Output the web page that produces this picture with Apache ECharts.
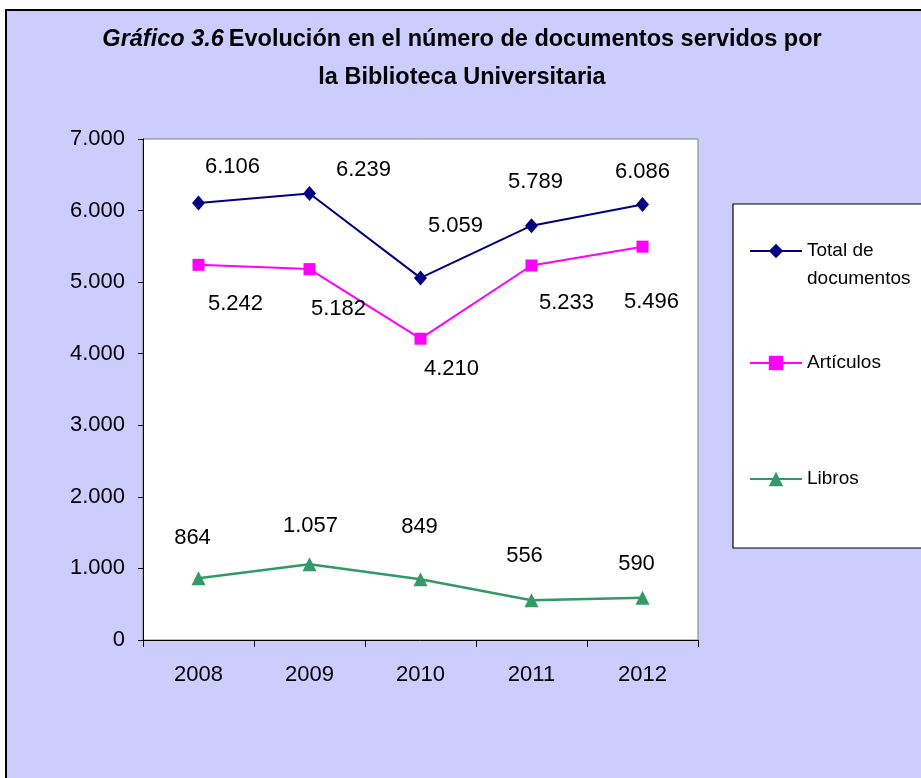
<!DOCTYPE html>
<html>
<head>
<meta charset="utf-8">
<script src="https://cdn.jsdelivr.net/npm/echarts@6/dist/echarts.min.js"></script>
<style>
  html, body { margin: 0; padding: 0; background: #fff; }
  #chart { width: 921px; height: 778px; }
</style>
</head>
<body>
<div id="chart"></div>
<script>
  // datos del gráfico
  var years = ['2008', '2009', '2010', '2011', '2012'];
  var totalDocs = [6106, 6239, 5059, 5789, 6086];
  var articulos = [5242, 5182, 4210, 5233, 5496];
  var libros = [864, 1057, 849, 556, 590];
  var yTicks = [0, 1000, 2000, 3000, 4000, 5000, 6000, 7000];

  // desplazamiento de las etiquetas respecto al punto (px)
  var offTotal = [[34, -36], [54, -24], [35, -52], [4, -44], [0, -32]];
  var offArt = [[37, 39], [29, 40], [31, 30], [35, 37], [9, 55]];
  var offLib = [[-6, -40], [1, -38], [-1, -52], [-7, -44], [-6, -34]];

  var SANS = '"Liberation Sans", Arial, sans-serif';

  function miles(v) {
    return String(v).replace(/\B(?=(\d{3})+(?!\d))/g, '.');
  }

  function puntos(vals, offs) {
    return vals.map(function (v, i) {
      return { value: v, label: { offset: offs[i] } };
    });
  }

  var etiqueta = {
    show: true,
    position: 'inside',
    color: '#000',
    fontFamily: SANS,
    fontSize: 22,
    formatter: function (p) { return miles(p.value); }
  };

  function leyenda(name, top) {
    return {
      data: [name],
      orient: 'vertical',
      left: 749,
      top: top,
      padding: 0,
      itemWidth: 52,
      itemHeight: 18,
      itemGap: 5,
      selectedMode: false,
      textStyle: { color: '#000', fontFamily: SANS, fontSize: 19, lineHeight: 28 },
      // la primera línea vacía deja "Total de" a la altura del símbolo
      formatter: function (n) { return n === 'Total de documentos' ? ' \nTotal de\ndocumentos' : n; }
    };
  }

  var myChart = echarts.init(document.getElementById('chart'));
  var option = {
    backgroundColor: '#fff',
    animation: false,
    title: {
      text: '{i|Gráfico 3.6} {b|Evolución en el número de documentos servidos por}\n{b|la Biblioteca Universitaria}',
      left: 457,
      top: 16,
      textAlign: 'center',
      textStyle: {
        rich: {
          i: { fontFamily: SANS, fontSize: 23.5, fontWeight: 'bold', fontStyle: 'italic', color: '#000', lineHeight: 38 },
          b: { fontFamily: SANS, fontSize: 23.5, fontWeight: 'bold', color: '#000', lineHeight: 38 }
        }
      }
    },
    graphic: [
      {
        type: 'rect', z: -10, silent: true,
        shape: { x: 6, y: 10, width: 1000, height: 1000 },
        style: { fill: '#ccccff', stroke: '#000', lineWidth: 2 }
      },
      {
        type: 'rect', z: -5, silent: true,
        shape: { x: 733, y: 204, width: 250, height: 344 },
        style: { fill: '#fff', stroke: '#000', lineWidth: 1.2 }
      }
    ],
    legend: [
      leyenda('Total de documentos', 209),
      leyenda('Artículos', 349),
      leyenda('Libros', 465)
    ],
    grid: {
      left: 143, right: 223, top: 139, bottom: 138,
      show: true, backgroundColor: '#fff', borderColor: '#808080', borderWidth: 1
    },
    xAxis: {
      type: 'category',
      data: years,
      boundaryGap: true,
      axisLine: { lineStyle: { color: '#000', width: 1 } },
      axisTick: { show: true, length: 7, lineStyle: { color: '#000' } },
      axisLabel: { color: '#000', fontFamily: SANS, fontSize: 22, margin: 24 }
    },
    yAxis: {
      type: 'value',
      min: yTicks[0],
      max: yTicks[yTicks.length - 1],
      interval: 1000,
      splitLine: { show: false },
      axisLine: { show: true, lineStyle: { color: '#000', width: 1 } },
      axisTick: { show: true, length: 5, lineStyle: { color: '#000' } },
      axisLabel: { color: '#000', fontFamily: SANS, fontSize: 22, margin: 18, formatter: miles }
    },
    series: [
      {
        name: 'Total de documentos',
        type: 'line',
        data: puntos(totalDocs, offTotal),
        symbol: 'diamond',
        symbolSize: [13, 15],
        color: '#000080',
        lineStyle: { color: '#000080', width: 2 },
        itemStyle: { color: '#000080' },
        label: etiqueta
      },
      {
        name: 'Artículos',
        type: 'line',
        data: puntos(articulos, offArt),
        symbol: 'rect',
        symbolSize: 12,
        color: '#ff00ff',
        lineStyle: { color: '#ff00ff', width: 2 },
        itemStyle: { color: '#ff00ff' },
        label: etiqueta
      },
      {
        name: 'Libros',
        type: 'line',
        data: puntos(libros, offLib),
        symbol: 'triangle',
        symbolSize: 14,
        color: '#339966',
        lineStyle: { color: '#339966', width: 2.5 },
        itemStyle: { color: '#339966' },
        label: etiqueta
      }
    ]
  };
  myChart.setOption(option);
</script>
</body>
</html>
